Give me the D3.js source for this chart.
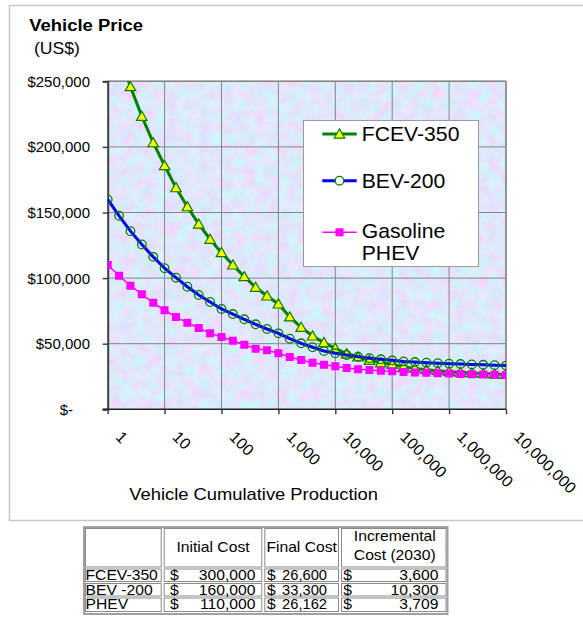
<!DOCTYPE html>
<html>
<head>
<meta charset="utf-8">
<script src="https://cdn.jsdelivr.net/npm/d3@7"></script>
<style>
  html, body { margin: 0; padding: 0; background: #fff; }
  svg { display: block; font-family: "Liberation Sans", Arial, Helvetica, sans-serif; }
</style>
</head>
<body>
<svg id="chart" width="583" height="629"></svg>
<script>
// Cumulative production points (log-spaced, five per decade)
const production = [1, 1.585, 2.512, 3.981, 6.31, 10, 15.85, 25.12, 39.81, 63.1,
  100, 158.5, 251.2, 398.1, 631, 1000, 1585, 2512, 3981, 6310,
  10000, 15849, 25119, 39811, 63096, 100000, 158489, 251189, 398107, 630957,
  1000000, 1584893, 2511886, 3981072, 6309573, 10000000];

// Vehicle price (US$) for each production point
const fcev350 = [300000, 270000, 245900, 223300, 203200, 185700, 168900, 154400, 141200, 129600,
  119400, 110000, 101100, 93000, 86400, 80300, 70400, 62500, 55900, 50800,
  46500, 42300, 39900, 37300, 35400, 34200, 32500, 31200, 30200, 29400,
  28700, 28200, 27700, 27300, 26900, 26600];
const bev200 = [160000, 147500, 135800, 125600, 116200, 107500, 100300, 93400, 87100, 81800,
  76500, 72600, 68600, 64800, 61200, 57900, 53800, 50300, 47300, 44400,
  42700, 41400, 40100, 38900, 38100, 37300, 36500, 36000, 35500, 35100,
  34800, 34500, 34200, 33900, 33600, 33300];
const phev = [110000, 101800, 94200, 87600, 81200, 75500, 70300, 66000, 62000, 57900,
  55100, 52300, 49200, 46200, 45000, 42700, 39900, 37600, 35500, 34000,
  32800, 31400, 30500, 30000, 29400, 29000, 28500, 28100, 27800, 27500,
  27300, 27000, 26800, 26600, 26400, 26162];

const seriesNames = ["FCEV-350", "BEV-200", "Gasoline\nPHEV"];
const xTicks = [1, 10, 100, 1000, 10000, 100000, 1000000, 10000000];
const yTicks = [0, 50000, 100000, 150000, 200000, 250000];

// Cost summary table
const tableHeader = ["", "Initial Cost", "Final Cost", "Incremental\nCost (2030)"];
const tableRows = ["FCEV-350", "BEV -200", "PHEV"];
const initialCost = [300000, 160000, 110000];
const finalCost = [26600, 33300, 26162];
const incrementalCost = [3600, 10300, 3709];

const svg = d3.select("#chart");
const fmt = d3.format(",");

// text helper with slight horizontal stretch
function label(g, x, y, str, o = {}) {
  const sx = o.sx || 1;
  return g.append("text")
    .attr("transform", `translate(${x},${y}) scale(${sx},1)`)
    .attr("text-anchor", o.anchor || "start")
    .attr("font-size", o.size || 14)
    .attr("font-weight", o.weight || "normal")
    .attr("fill", o.fill || "#000")
    .text(str);
}

// outer chart frame
svg.append("rect").attr("x", 9.5).attr("y", 5.5).attr("width", 600).attr("height", 515)
  .attr("fill", "#fff").attr("stroke", "#c8c8c8").attr("stroke-width", 1.5);

const plot = { left: 107.7, right: 506, top: 81.3, bottom: 409.3 };
const x = d3.scaleLog().domain([1, 1e7]).range([plot.left, plot.right]);
const y = d3.scaleLinear().domain([0, 250000]).range([plot.bottom, plot.top]);

const defs = svg.append("defs");
const filt = defs.append("filter").attr("id", "tissue")
  .attr("x", 0).attr("y", 0).attr("width", "100%").attr("height", "100%");
filt.append("feTurbulence").attr("type", "fractalNoise").attr("baseFrequency", 0.09)
  .attr("numOctaves", 4).attr("seed", 7).attr("result", "n");
filt.append("feColorMatrix").attr("in", "n").attr("type", "matrix")
  .attr("values", "0.45 -0.2 0 0 0.615  -0.25 0.32 0 0 0.765  0.06 0 0 0 0.93  0 0 0 0 1");
defs.append("clipPath").attr("id", "plotClip").append("rect")
  .attr("x", plot.left).attr("y", plot.top)
  .attr("width", plot.right - plot.left).attr("height", plot.bottom - plot.top);

// textured plot background
svg.append("rect").attr("x", plot.left).attr("y", plot.top)
  .attr("width", plot.right - plot.left).attr("height", plot.bottom - plot.top)
  .attr("filter", "url(#tissue)");

// gridlines
const grid = svg.append("g").attr("stroke", "#858585").attr("stroke-width", 1);
grid.selectAll("line.v").data(xTicks.slice(1)).join("line")
  .attr("x1", d => x(d)).attr("x2", d => x(d)).attr("y1", plot.top).attr("y2", plot.bottom);
grid.selectAll("line.h").data(yTicks.slice(1)).join("line")
  .attr("x1", plot.left).attr("x2", plot.right).attr("y1", d => y(d)).attr("y2", d => y(d));
grid.append("line").attr("x1", plot.right).attr("x2", plot.right)
  .attr("y1", plot.top).attr("y2", plot.bottom).attr("stroke-width", 1.5);
grid.append("line").attr("x1", plot.left).attr("x2", plot.right)
  .attr("y1", plot.top).attr("y2", plot.top).attr("stroke-width", 1.5);

// axes
const yAxis = svg.append("g").attr("transform", `translate(${plot.left},0)`)
  .call(d3.axisLeft(y).tickValues(yTicks).tickSize(5).tickFormat(""));
yAxis.select(".domain").attr("stroke", "#404040").attr("stroke-width", 2);
yAxis.selectAll(".tick line").attr("stroke", "#404040").attr("stroke-width", 1.5);

const xAxis = svg.append("g").attr("transform", `translate(0,${plot.bottom})`)
  .call(d3.axisBottom(x).tickValues(xTicks).tickSize(5).tickSizeOuter(0).tickFormat(""));
xAxis.select(".domain").attr("stroke", "#202020").attr("stroke-width", 1.5)
  .attr("d", `M${plot.left - 5},0H${plot.right}`);
xAxis.selectAll(".tick line").attr("stroke", "#404040").attr("stroke-width", 1.5);

// y tick labels (accounting style)
const yl = svg.append("g");
yTicks.forEach(v => {
  if (v === 0) label(yl, 73, y(v) + 5.5, "$-", { anchor: "end", size: 15 });
  else label(yl, 90, y(v) + 5.5, "$" + fmt(v), { anchor: "end", size: 15 });
});

// x tick labels rotated 45 degrees
const xl = svg.append("g");
xTicks.forEach(v => {
  xl.append("text")
    .attr("transform", `translate(${x(v) + 7},${438}) rotate(45)`)
    .attr("font-size", 16).attr("fill", "#000").text(fmt(v));
});

// titles
label(svg, 29.3, 31, "Vehicle Price", { size: 17, weight: "bold", sx: 1.085 });
label(svg, 34, 54, "(US$)", { size: 16, sx: 1.1 });
label(svg, 129.3, 500, "Vehicle Cumulative Production", { size: 16, sx: 1.147 });

// series
const pts = arr => production.map((p, i) => [p, arr[i]]);
const line = d3.line().x(d => x(d[0])).y(d => y(d[1]));
const plotG = svg.append("g").attr("clip-path", "url(#plotClip)");

const triangle = d3.symbol().type(d3.symbolTriangle).size(48)();
const square = d3.symbol().type(d3.symbolSquare).size(64)();

// FCEV-350
plotG.append("path").datum(pts(fcev350)).attr("d", line)
  .attr("fill", "none").attr("stroke", "#008000").attr("stroke-width", 3);
plotG.selectAll("path.tri").data(pts(fcev350)).join("path").attr("class", "tri")
  .attr("d", triangle).attr("transform", d => `translate(${x(d[0])},${y(d[1]) + 1})`)
  .attr("fill", "#ffff00").attr("stroke", "#008000").attr("stroke-width", 1.2);

// BEV-200
plotG.append("path").datum(pts(bev200)).attr("d", line)
  .attr("fill", "none").attr("stroke", "#0000ff").attr("stroke-width", 3);
plotG.selectAll("circle.bev").data(pts(bev200)).join("circle").attr("class", "bev")
  .attr("cx", d => x(d[0])).attr("cy", d => y(d[1])).attr("r", 4.3)
  .attr("fill", "none").attr("stroke", "#008000").attr("stroke-width", 1.3);

// Gasoline PHEV
plotG.append("path").datum(pts(phev)).attr("d", line)
  .attr("fill", "none").attr("stroke", "#ff00ff").attr("stroke-width", 1.5);
plotG.selectAll("path.sq").data(pts(phev)).join("path").attr("class", "sq")
  .attr("d", square).attr("transform", d => `translate(${x(d[0])},${y(d[1])})`)
  .attr("fill", "#ff00ff");

// legend
const lg = svg.append("g");
lg.append("rect").attr("x", 303.5).attr("y", 120.5).attr("width", 175).attr("height", 146)
  .attr("fill", "#fff").attr("stroke", "#9a9a9a").attr("stroke-width", 1);
const legendY = [134, 180.7, 232.3];
const legendBase = [[141], [188.3], [238.3, 260]];
const lx0 = 322.3, lx1 = 356.7, lxm = 339.5;
lg.append("line").attr("x1", lx0).attr("x2", lx1).attr("y1", legendY[0]).attr("y2", legendY[0])
  .attr("stroke", "#008000").attr("stroke-width", 3);
lg.append("path").attr("d", triangle).attr("transform", `translate(${lxm},${legendY[0] + 1})`)
  .attr("fill", "#ffff00").attr("stroke", "#008000").attr("stroke-width", 1.2);
lg.append("line").attr("x1", lx0).attr("x2", lx1).attr("y1", legendY[1]).attr("y2", legendY[1])
  .attr("stroke", "#0000ff").attr("stroke-width", 3);
lg.append("circle").attr("cx", lxm).attr("cy", legendY[1]).attr("r", 4.3)
  .attr("fill", "#fff").attr("stroke", "#008000").attr("stroke-width", 1.3);
lg.append("line").attr("x1", lx0).attr("x2", lx1).attr("y1", legendY[2]).attr("y2", legendY[2])
  .attr("stroke", "#ff00ff").attr("stroke-width", 1.5);
lg.append("path").attr("d", square).attr("transform", `translate(${lxm},${legendY[2]})`)
  .attr("fill", "#ff00ff");
seriesNames.forEach((name, i) => {
  name.split("\n").forEach((part, j) => {
    label(lg, 361.7, legendBase[i][j], part, { size: 20, sx: 1.06 });
  });
});

// cost table
const tg = svg.append("g");
const colX = [84, 162.7, 263.3, 340, 447.5];
const rowY = [527, 567.5, 582, 596.5, 612];
tg.append("rect").attr("x", colX[0]).attr("y", rowY[0]).attr("width", colX[4] - colX[0])
  .attr("height", rowY[4] + 2 - rowY[0]).attr("fill", "#fff").attr("stroke", "#a0a0a0").attr("stroke-width", 2);
for (let r = 0; r < 4; r++) {
  for (let c = 0; c < 4; c++) {
    tg.append("rect").attr("x", colX[c] + 1.5).attr("y", rowY[r] + 1.5)
      .attr("width", colX[c + 1] - colX[c] - 3).attr("height", rowY[r + 1] - rowY[r] - 2)
      .attr("fill", "none").attr("stroke", "#8a8a8a").attr("stroke-width", 1);
  }
}
const tOpt = { size: 14, sx: 1.12 };
label(tg, (colX[1] + colX[2]) / 2, 552, tableHeader[1], { ...tOpt, anchor: "middle" });
label(tg, (colX[2] + colX[3]) / 2, 552, tableHeader[2], { ...tOpt, anchor: "middle" });
tableHeader[3].split("\n").forEach((part, j) => {
  label(tg, (colX[3] + colX[4]) / 2 + 1, 541 + j * 19, part, { ...tOpt, anchor: "middle" });
});
tableRows.forEach((name, i) => {
  const by = [580, 594.5, 609][i];
  label(tg, 85.5, by, name, tOpt);
  label(tg, 170, by, "$", tOpt);
  label(tg, 255.5, by, fmt(initialCost[i]), { ...tOpt, anchor: "end" });
  label(tg, 267, by, "$", tOpt);
  label(tg, 327, by, fmt(finalCost[i]), { ...tOpt, anchor: "end", sx: 1.05 });
  label(tg, 343.3, by, "$", tOpt);
  label(tg, 438.5, by, fmt(incrementalCost[i]), { ...tOpt, anchor: "end" });
});
</script>
</body>
</html>
